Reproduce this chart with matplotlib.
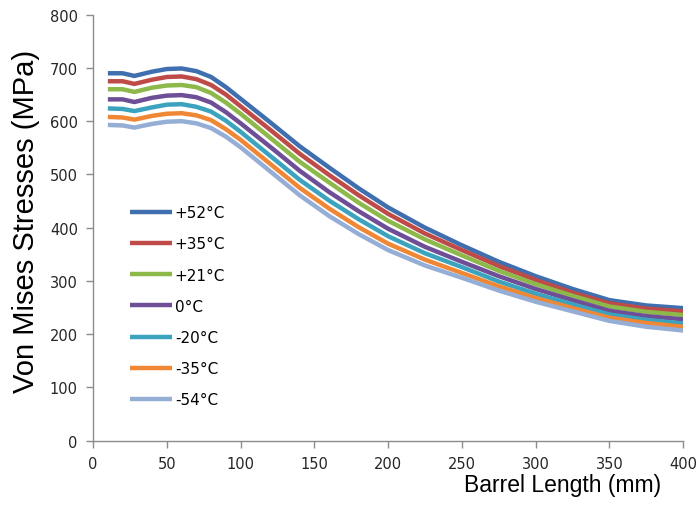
import matplotlib
matplotlib.use("Agg")
import matplotlib.pyplot as plt

# barrel length positions (mm)
length_mm = [10, 20, 28, 40, 50, 60, 70, 80, 90, 100, 120, 140, 160, 180,
             200, 225, 250, 275, 300, 325, 350, 375, 400]

# von Mises stress (MPa)
stress_p52 = [690, 690, 685, 693, 698, 699, 694, 683, 664, 642, 598, 553, 513, 474,
              438, 400, 367, 336, 309, 285, 264, 254, 249]
stress_p35 = [675, 675, 670, 678, 683, 684, 679, 668, 650, 628, 584, 539, 499, 461,
              426, 389, 358, 328, 302, 278, 258, 248, 243]
stress_p21 = [660, 660, 655, 663, 667, 668, 664, 653, 635, 614, 569, 524, 485, 447,
              413, 378, 348, 319, 294, 272, 252, 242, 236]
stress_0 = [641, 641, 636, 644, 648, 649, 645, 635, 617, 596, 552, 507, 467, 431,
            398, 364, 336, 309, 285, 264, 244, 234, 228]
stress_m20 = [624, 623, 619, 626, 631, 632, 627, 618, 601, 580, 535, 490, 451, 416,
              384, 352, 326, 299, 276, 256, 237, 227, 220]
stress_m35 = [608, 607, 603, 610, 614, 615, 611, 602, 585, 565, 520, 475, 436, 401,
              370, 340, 315, 290, 268, 249, 231, 221, 214]
stress_m54 = [593, 592, 588, 595, 599, 600, 596, 587, 571, 551, 506, 461, 422, 388,
              358, 329, 306, 282, 261, 243, 225, 214, 207]

labels = ["+52°C", "+35°C", "+21°C", "0°C", "-20°C", "-35°C", "-54°C"]
series = [stress_p52, stress_p35, stress_p21, stress_0, stress_m20, stress_m35, stress_m54]
colors = ["#3F6FAE", "#BE4B48", "#8DB84A", "#6E4E96", "#3CA3BF", "#F08735", "#94AED6"]

fig = plt.figure(figsize=(7, 5.06), dpi=100)
ax = fig.add_axes([0.133, 0.127, 0.843, 0.842])

for s, lab, c in zip(series, labels, colors):
    ax.plot(length_mm, s, color=c, lw=3.2, label=lab,
            solid_joinstyle="round", solid_capstyle="butt")

ax.set_xlim(0, 400)
ax.set_ylim(0, 800)
ax.set_xticks(range(0, 401, 50))
ax.set_yticks(range(0, 801, 100))

for side in ["top", "right"]:
    ax.spines[side].set_visible(False)
for side in ["left", "bottom"]:
    ax.spines[side].set_color("#8c8c8c")
    ax.spines[side].set_linewidth(1.0)
ax.tick_params(direction="out", length=5, width=1, color="#8c8c8c",
               labelsize=10.5, labelcolor="#262626", pad=6)

fig.text(0.944, 0.028, "Barrel Length (mm)", ha="right", va="baseline",
         fontsize=16.5, family="Liberation Sans")
fig.text(0.037, 0.563, "Von Mises Stresses (MPa)", ha="center", va="center",
         rotation=90, fontsize=21, family="Liberation Sans")

ax.legend(loc="upper left", bbox_to_anchor=(0.04, 0.585), frameon=False,
          fontsize=11, handlelength=2.7, handletextpad=0.2, labelspacing=1.06)

fig.savefig("out.png", dpi=100)
